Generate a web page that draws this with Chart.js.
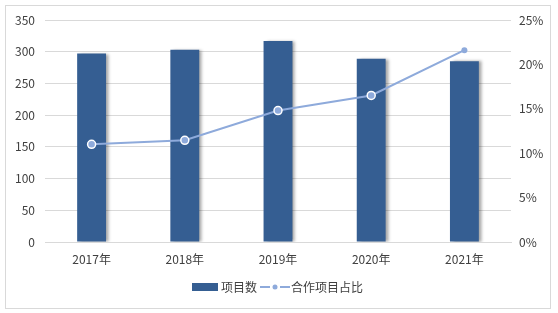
<!DOCTYPE html>
<html>
<head>
<meta charset="utf-8">
<script src="https://cdn.jsdelivr.net/npm/chart.js@4"></script>
<style>
  html, body { margin: 0; padding: 0; background: #fff; }
  #wrap { position: relative; width: 558px; height: 313px; }
  #frame { position: absolute; left: 5px; top: 5px; width: 544px; height: 302px; border: 1px solid #d9d9d9; box-sizing: content-box; pointer-events: none; }
  canvas { position: absolute; left: 0; top: 0; }
</style>
</head>
<body>
<div id="wrap">
  <canvas id="chart" width="558" height="313"></canvas>
  <div id="frame"></div>
</div>
<script>
// Daten
const years = ['2017年', '2018年', '2019年', '2020年', '2021年'];
const projectCounts = [297, 303, 317, 289, 285];
const coopShare = [0.110, 0.1145, 0.148, 0.165, 0.216];
const leftTicks = [0, 50, 100, 150, 200, 250, 300, 350];
const rightTicks = [0, 0.05, 0.10, 0.15, 0.20, 0.25];

const barColor = '#355e92';
const lineColor = '#8eaadb';
const textColor = '#404040';
const gridColor = '#d9d9d9';
const fontFamily = '"Noto Sans CJK SC", "Noto Sans", sans-serif';

// Legenden-Symbole
function makeBarIcon() {
    const c = document.createElement('canvas');
    c.width = 26; c.height = 8;
    const g = c.getContext('2d');
    g.fillStyle = barColor;
    g.fillRect(0, 0, 26, 8);
    return c;
}
function makeLineIcon() {
    const c = document.createElement('canvas');
    c.width = 30; c.height = 8;
    const g = c.getContext('2d');
    g.strokeStyle = lineColor;
    g.lineWidth = 2;
    g.beginPath(); g.moveTo(0, 4); g.lineTo(10, 4); g.moveTo(20, 4); g.lineTo(30, 4); g.stroke();
    g.fillStyle = lineColor;
    g.beginPath(); g.arc(15, 4, 2.5, 0, Math.PI * 2); g.fill();
    return c;
}

// Schatten rechts neben den Balken (Balken = Datensatz 1)
const barShadow = {
    id: 'barShadow',
    beforeDatasetDraw(chart, args) {
        if (args.index !== 1) return;
        const ctx = chart.ctx;
        ctx.save();
        ctx.shadowColor = 'rgba(0,0,0,0.35)';
        ctx.shadowOffsetX = 3;
        ctx.shadowOffsetY = 0;
        ctx.shadowBlur = 3;
    },
    afterDatasetDraw(chart, args) {
        if (args.index !== 1) return;
        chart.ctx.restore();
    }
};

const ctx = document.getElementById('chart').getContext('2d');
const chart = new Chart(ctx, {
    data: {
        labels: years,
        datasets: [{
            type: 'line',
            label: '合作项目占比',
            data: coopShare,
            yAxisID: 'y1',
            borderColor: lineColor,
            borderWidth: 2,
            pointRadius: [4, 4, 4, 4, 3],
            pointBorderWidth: [1.5, 1.5, 1.5, 1.5, 0],
            pointBackgroundColor: lineColor,
            pointBorderColor: ['#fff', '#fff', '#fff', '#fff', lineColor],
            pointStyle: 'circle',
            tension: 0,
            order: 0
        }, {
            type: 'bar',
            label: '项目数',
            data: projectCounts,
            yAxisID: 'y',
            backgroundColor: barColor,
            barPercentage: 0.31,
            categoryPercentage: 1,
            order: 1
        }]
    },
    options: {
        animation: false,
        responsive: false,
        layout: { padding: { left: 0, right: 0, top: 20, bottom: 10 } },
        plugins: {
            tooltip: { enabled: false },
            legend: {
                position: 'bottom',
                labels: {
                    usePointStyle: true,
                    pointStyleWidth: 20,
                    padding: 8,
                    color: textColor,
                    font: { family: fontFamily, size: 12 },
                    generateLabels(chart) {
                        return [
                            { text: '项目数', pointStyle: makeBarIcon(), fontColor: textColor, lineWidth: 0, datasetIndex: 1 },
                            { text: '合作项目占比', pointStyle: makeLineIcon(), fontColor: textColor, lineWidth: 0, datasetIndex: 0 }
                        ];
                    }
                }
            }
        },
        scales: {
            x: {
                grid: { display: false },
                border: { color: gridColor },
                ticks: { color: textColor, font: { family: fontFamily, size: 12 }, padding: 2, maxRotation: 0 },
                afterFit(scale) { scale.height = 31; }
            },
            y: {
                position: 'left',
                min: 0, max: 350,
                afterBuildTicks(scale) { scale.ticks = leftTicks.map(v => ({ value: v })); },
                grid: { color: gridColor, drawTicks: false },
                border: { display: false },
                ticks: { color: textColor, font: { family: fontFamily, size: 12 }, padding: 10 },
                afterFit(scale) { scale.width = 45; }
            },
            y1: {
                position: 'right',
                min: 0, max: 0.25,
                afterBuildTicks(scale) { scale.ticks = rightTicks.map(v => ({ value: v })); },
                grid: { display: false, drawTicks: false },
                border: { display: false },
                ticks: {
                    color: textColor, font: { family: fontFamily, size: 12 }, padding: 8,
                    callback: v => Math.round(v * 100) + '%'
                },
                afterFit(scale) { scale.width = 47; }
            }
        }
    },
    plugins: [barShadow]
});
</script>
</body>
</html>
